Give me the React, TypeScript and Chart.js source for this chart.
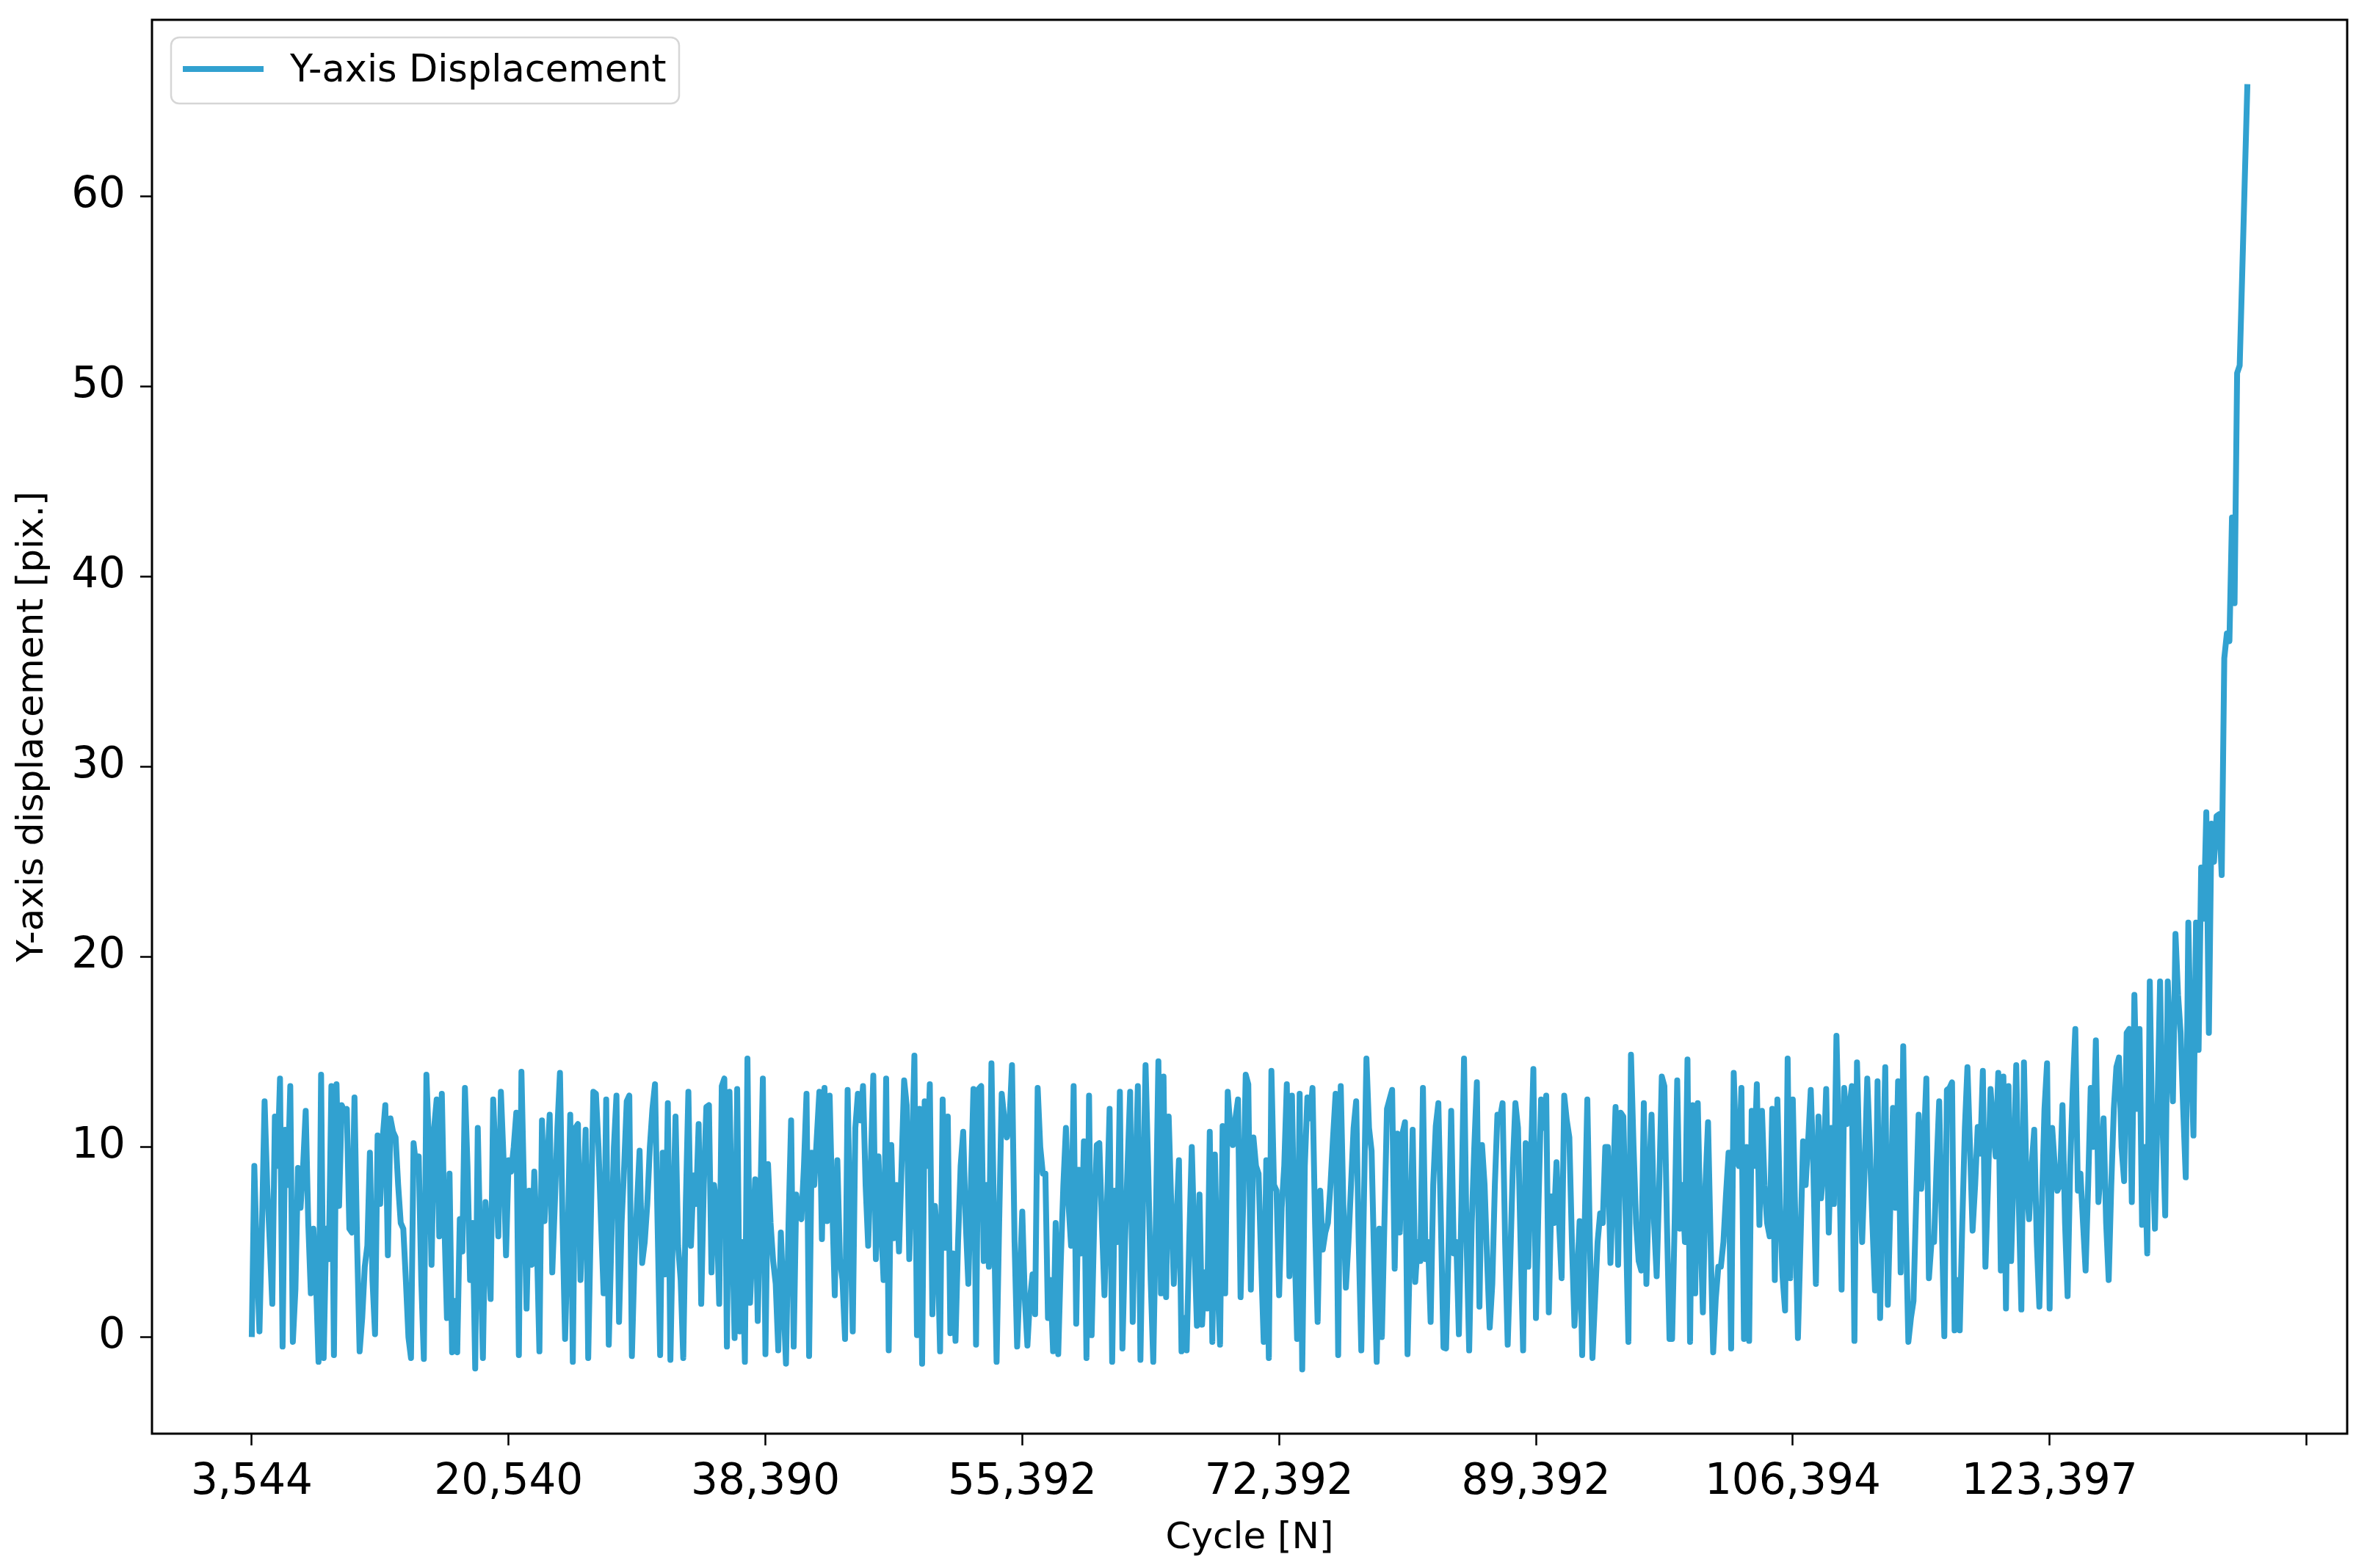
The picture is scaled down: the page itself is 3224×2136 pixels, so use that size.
import { useEffect, useRef } from 'react';
import { Chart, registerables } from 'chart.js';

Chart.register(...registerables);

const SERIES_LABEL = 'Y-axis Displacement';
const X_TITLE = 'Cycle [N]';
const Y_TITLE = 'Y-axis displacement [pix.]';

const xTickIndices = [0, 100, 200, 300, 400, 500, 600, 700, 800];
const xTickLabels = ['3,544', '20,540', '38,390', '55,392', '72,392', '89,392', '106,394', '123,397', ''];
const yTicks = [0, 10, 20, 30, 40, 50, 60];

const yDisplacement = [
  // 0-87
  0, 9.0, 4, 0.3, 6, 12.4, 8, 5, 1.75, 11.6,
  9, 13.6, -0.5, 10.9, 8, 13.2, -0.25, 2.5, 8.9, 6.8,
  9, 11.9, 6, 2.3, 5.7, 3, -1.3, 13.8, -1.1, 5.7,
  4.1, 13.2, -0.95, 13.3, 6.9, 12.2, 11.9, 12.0, 5.7, 5.5,
  12.6, 5, -0.75, 1, 3.7, 4.8, 9.7, 3, 0.15, 10.6,
  7, 10.5, 12.2, 4.3, 11.5, 10.8, 10.5, 8, 6, 5.7,
  3, 0, -1.1, 10.2, 9, 9.5, 3, -1.15, 13.8, 10,
  3.8, 11, 12.5, 5.3, 12.8, 6, 1.0, 8.6, -0.8, 1.9,
  -0.8, 6.2, 4.5, 13.1, 9, 3, 6, -1.65,
  // 88-175
  11.0, 4.5, -1.1, 7.1, 5.0, 2.0, 12.5, 9.0, 5.3, 12.9,
  9.5, 4.3, 9.3, 8.7, 10.0, 11.8, -0.95, 13.95, 7.7, 1.5,
  7.7, 3.8, 8.7, 5.0, -0.75, 11.4, 6.1, 9.0, 11.7, 3.4,
  7.0, 11.0, 13.9, 6.0, -0.1, 5.0, 11.7, -1.3, 11.0, 11.2,
  3.0, 7.0, 10.9, -1.1, 6.0, 12.9, 12.8, 10.0, 6.0, 2.3,
  12.5, -0.4, 5.0, 10.0, 12.7, 0.8, 6.0, 9.0, 12.4, 12.7,
  -1.0, 4.0, 7.0, 9.8, 3.9, 5.0, 7.0, 10.0, 12.0, 13.3,
  6.0, -0.95, 9.7, 3.3, 12.3, -1.2, 6.0, 11.6, 4.8, 3.0,
  -1.1, 7.0, 12.9, 4.8, 8.5, 7.0, 11.2, 1.75,
  // 176-263
  8.0, 12.1, 12.2, 3.4, 8.0, 6.8, 1.75, 13.2, 13.6, -0.5,
  12.9, 6.0, -0.05, 13.05, 0.3, 5.0, -1.3, 14.65, 1.8, 5.0,
  8.3, 0.85, 7.0, 13.6, -0.9, 9.1, 6.0, 4.0, 2.8, -0.7,
  5.5, 2.0, -1.4, 6.0, 11.4, -0.5, 7.5, 6.5, 6.2, 9.0,
  12.8, -1.0, 9.7, 8.0, 10.5, 12.9, 5.15, 13.1, 6.1, 12.7,
  7.0, 2.2, 9.3, 4.1, 3.0, -0.1, 13.0, 6.0, 0.3, 11.0,
  12.8, 11.4, 13.2, 8.0, 4.8, 9.0, 13.75, 4.1, 9.5, 6.0,
  3.0, 13.6, -0.7, 10.1, 5.2, 8.0, 4.5, 9.0, 13.5, 12.2,
  4.1, 9.0, 14.8, 0.1, 12.0, -1.4, 12.4, 9.0,
  // 264-351
  13.3, 1.2, 6.9, 5.0, -0.75, 12.5, 4.7, 11.6, 0.2, 4.4,
  -0.2, 5.0, 9.0, 10.8, 6.0, 2.8, 8.0, 13.05, -0.4, 13.05,
  13.2, 4.0, 8.0, 3.7, 14.4, 6.0, -1.3, 6.0, 12.8, 11.5,
  10.5, 11.25, 14.3, 5.0, -0.5, 3.0, 6.6, 2.0, -0.45, 2.0,
  3.3, 1.2, 13.1, 10.0, 8.6, 8.6, 1.0, 3.0, -0.75, 6.0,
  -0.9, 4.0, 8.0, 11.0, 7.0, 4.8, 13.2, 0.7, 8.8, 4.4,
  10.3, -1.1, 12.7, 0.1, 6.0, 10.1, 10.2, 6.0, 2.2, 7.0,
  12.0, -1.3, 7.7, 5.0, 12.9, -0.6, 5.0, 9.0, 12.9, 0.8,
  8.0, 13.2, -1.2, 7.0, 14.3, 9.0, 3.0, -1.3,
  // 352-439
  6.0, 14.5, 2.3, 13.7, 2.1, 11.6, 7.0, 2.8, 6.0, 9.3,
  -0.75, 1.0, -0.7, 5.0, 10.0, 5.0, 0.6, 7.5, 0.65, 3.4,
  1.5, 10.8, -0.25, 9.6, 3.0, -0.4, 11.1, 2.3, 12.9, 11.0,
  10.1, 11.5, 12.5, 2.1, 7.0, 13.8, 13.3, 2.5, 10.5, 9.0,
  8.6, 4.0, -0.25, 9.3, -1.1, 14.0, 8.0, 7.7, 2.2, 6.8,
  9.0, 13.3, 3.2, 12.7, 5.0, -0.1, 12.8, -1.7, 9.0, 12.6,
  11.5, 13.1, 6.0, 0.8, 7.7, 4.6, 5.5, 6.0, 8.0, 10.5,
  12.8, -0.95, 13.2, 7.0, 2.6, 5.0, 8.0, 11.0, 12.4, 5.0,
  -0.7, 7.0, 14.65, 11.0, 9.8, 4.0, -1.3, 5.7,
  // 440-527
  0.0, 6.0, 12.0, 12.5, 13.0, 3.6, 10.7, 5.5, 10.7, 11.3,
  -0.9, 5.0, 10.9, 2.9, 5.0, 4.0, 13.1, 4.1, 5.0, 0.8,
  8.0, 11.1, 12.3, 6.0, -0.55, -0.6, 5.0, 11.9, 4.4, 5.0,
  0.15, 7.0, 14.65, 5.0, -0.7, 6.0, 10.0, 13.4, 1.6, 10.1,
  8.0, 4.0, 0.5, 2.8, 8.0, 11.7, 11.5, 12.3, 5.0, -0.4,
  4.0, 9.0, 12.3, 11.0, 5.0, -0.7, 10.2, 3.7, 9.0, 14.1,
  1.0, 7.0, 12.5, 11.0, 12.7, 1.3, 7.4, 6.0, 9.2, 6.0,
  3.1, 12.7, 11.4, 10.5, 5.0, 0.6, 3.0, 6.1, -0.95, 6.0,
  12.5, 5.0, -1.1, 2.0, 5.0, 6.5, 6.0, 10.0,
  // 528-615
  10.0, 3.9, 8.0, 12.1, 3.8, 11.8, 11.6, 6.0, -0.25, 14.85,
  10.0, 6.0, 4.0, 3.5, 12.3, 2.8, 8.0, 11.7, 6.0, 3.2,
  8.0, 13.7, 13.2, 6.0, -0.1, -0.1, 6.0, 13.5, 5.7, 8.0,
  5.0, 14.6, -0.25, 12.2, 2.3, 12.3, 6.0, 1.3, 8.0, 11.3,
  5.0, -0.8, 2.0, 3.7, 3.7, 5.0, 7.5, 9.7, -0.6, 13.9,
  9.45, 9.0, 13.1, -0.1, 10.0, -0.2, 11.9, 9.0, 13.3, 5.9,
  11.9, 8.0, 6.0, 5.3, 12.0, 3.0, 12.5, 7.0, 3.2, 1.4,
  14.65, 3.1, 12.5, 6.0, -0.05, 5.0, 10.3, 8.0, 10.35, 13.0,
  8.9, 2.8, 11.6, 7.3, 9.0, 13.05, 5.5, 11.0,
  // 616-703
  7.0, 15.85, 10.0, 2.5, 13.1, 11.2, 12.0, 13.2, -0.2, 14.45,
  9.0, 5.0, 9.0, 13.6, 10.0, 6.0, 2.45, 13.45, 1.0, 8.0,
  14.2, 1.7, 7.0, 12.05, 6.8, 13.45, 3.4, 15.3, 6.0, -0.25,
  1.0, 1.9, 7.0, 11.7, 7.8, 10.0, 13.6, 3.1, 5.0, 5.0,
  9.0, 12.4, 6.0, 0.05, 13.0, 13.1, 13.4, 0.35, 3.0, 0.35,
  6.0, 11.0, 14.2, 10.0, 5.6, 8.0, 11.05, 9.65, 14.0, 3.7,
  8.0, 13.05, 11.0, 9.5, 13.9, 3.5, 13.7, 1.5, 13.2, 4.0,
  9.0, 14.3, 7.0, 1.45, 14.45, 8.0, 6.2, 9.0, 10.9, 5.0,
  1.6, 7.0, 12.0, 14.4, 1.5, 11.0, 9.0, 7.7,
  // 704-777
  8.0, 12.2, 6.0, 2.15, 9.0, 13.0, 16.2, 7.7, 8.6, 6.0,
  3.5, 8.0, 13.1, 10.0, 15.6, 7.1, 9.0, 11.5, 6.0, 3.0,
  8.0, 12.0, 14.2, 14.7, 10.0, 8.2, 16.0, 16.2, 7.1, 18.0,
  12.0, 16.2, 5.9, 10.0, 4.4, 18.7, 10.0, 5.7, 12.0, 18.7,
  11.0, 6.4, 18.7, 15.0, 12.4, 21.2, 18.0, 16.0, 12.0, 8.4,
  21.8, 15.0, 10.6, 21.8, 15.1, 24.7, 22.0, 27.6, 16.0, 27.0,
  25.0, 27.4, 27.5, 24.3, 35.7, 37.0, 36.6, 43.1, 38.6, 50.7,
  51.1, 56.0, 61.0, 65.9,
];

const W = 3224;
const H = 2136;
const FONT = "'DejaVu Sans', 'Liberation Sans', sans-serif";
const LINE_COLOR = '#31a1d0';

const framePlugin = {
  id: 'mplFrame',
  afterDatasetsDraw(chart: any) {
    const { ctx, chartArea: a } = chart;
    ctx.save();
    ctx.strokeStyle = '#000';
    ctx.lineWidth = 3;
    ctx.strokeRect(a.left, a.top, a.right - a.left, a.bottom - a.top);
    ctx.restore();
  },
};

const legendPlugin = {
  id: 'mplLegend',
  afterDraw(chart: any) {
    const ctx = chart.ctx;
    const ds = chart.data.datasets[0];
    ctx.save();
    const x = 233, y = 51, w = 692, h = 90, r = 11;
    ctx.beginPath();
    ctx.roundRect(x, y, w, h, r);
    ctx.fillStyle = 'rgba(255,255,255,0.8)';
    ctx.fill();
    ctx.lineWidth = 2.5;
    ctx.strokeStyle = '#d6d6d6';
    ctx.stroke();
    ctx.beginPath();
    ctx.moveTo(249, 94);
    ctx.lineTo(359, 94);
    ctx.strokeStyle = ds.borderColor;
    ctx.lineWidth = 8;
    ctx.stroke();
    ctx.font = `51px ${FONT}`;
    ctx.fillStyle = '#000';
    ctx.textBaseline = 'alphabetic';
    ctx.textAlign = 'left';
    ctx.fillText(ds.label, 395, 111);
    ctx.restore();
  },
};

const zeroPad = (s: any) => {
  s.paddingTop = 0;
  s.paddingBottom = 0;
  s.paddingLeft = 0;
  s.paddingRight = 0;
};

export default function App() {
  const ref = useRef<HTMLCanvasElement | null>(null);

  useEffect(() => {
    if (!ref.current) return;
    const n = yDisplacement.length;
    const chart = new Chart(ref.current, {
      type: 'line',
      data: {
        datasets: [
          {
            label: SERIES_LABEL,
            data: yDisplacement.map((v, i) => ({ x: i, y: v })),
            borderColor: LINE_COLOR,
            backgroundColor: LINE_COLOR,
            borderWidth: 8,
            pointRadius: 0,
            tension: 0,
            borderJoinStyle: 'round',
            fill: false,
          },
        ],
      },
      options: {
        animation: false,
        responsive: false,
        devicePixelRatio: 1,
        layout: { padding: { top: 27, right: 27, left: 0, bottom: 0 } },
        plugins: { legend: { display: false }, tooltip: { enabled: false } },
        scales: {
          x: {
            type: 'linear',
            min: -0.05 * (n - 1),
            max: 1.05 * (n - 1),
            afterBuildTicks: (s: any) => {
              s.ticks = xTickIndices.map((v) => ({ value: v }));
            },
            afterFit: (s: any) => {
              s.height = 183;
              zeroPad(s);
            },
            ticks: {
              autoSkip: false,
              maxRotation: 0,
              minRotation: 0,
              padding: 16,
              color: '#000',
              font: { family: FONT, size: 58 },
              callback: (_v: any, i: number) => xTickLabels[i] ?? '',
            },
            grid: {
              drawOnChartArea: false,
              drawTicks: true,
              tickLength: 16,
              tickWidth: 2.5,
              tickColor: '#000',
            },
            border: { display: false },
            title: {
              display: true,
              text: X_TITLE,
              color: '#000',
              font: { family: FONT, size: 50 },
              padding: { top: 0, bottom: 10 },
            },
          },
          y: {
            type: 'linear',
            min: -5.08,
            max: 69.28,
            afterBuildTicks: (s: any) => {
              s.ticks = yTicks.map((v) => ({ value: v }));
            },
            afterFit: (s: any) => {
              s.width = 207;
              zeroPad(s);
            },
            ticks: {
              padding: 20,
              color: '#000',
              font: { family: FONT, size: 58 },
              callback: (v: any) => String(v),
            },
            grid: {
              drawOnChartArea: false,
              drawTicks: true,
              tickLength: 16,
              tickWidth: 2.5,
              tickColor: '#000',
            },
            border: { display: false },
            title: {
              display: true,
              text: Y_TITLE,
              color: '#000',
              font: { family: FONT, size: 50 },
              padding: { top: 15, bottom: 0 },
            },
          },
        },
      },
      plugins: [framePlugin, legendPlugin],
    } as any);
    return () => chart.destroy();
  }, []);

  return (
    <div style={{ position: 'absolute', left: 0, top: 0, width: W, height: H, background: '#fff' }}>
      <canvas ref={ref} width={W} height={H} style={{ width: W, height: H, display: 'block' }} />
    </div>
  );
}
